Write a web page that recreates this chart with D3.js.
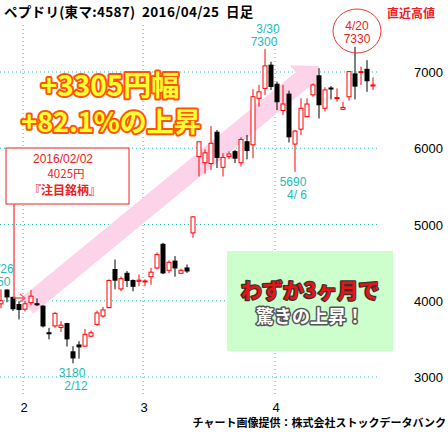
<!DOCTYPE html>
<html><head><meta charset="utf-8">
<script src="https://cdn.jsdelivr.net/npm/d3@7"></script>
<style>body{margin:0;background:#fff}svg{display:block}</style>
</head><body><svg id="c" width="448" height="432"></svg>
<script>
// daily candles, Jan 2016 -> Apr 25 2016
const opens  = [3960,4140,4045,3950,3890,3975,3960,3930,3580,3670,3650,3700,3330,3420,3405,3535,3690,3800,3910,4410,4155,4360,4265,4255,4255,4315,4430,4740,4400,4520,4360,4430,4890,
  5890,5810,5800,6210,5750,5890,5955,5810,6085,6045,6655,6785,7090,6840,6495,6710,6055,6250,6415,6700,6950,6525,6790,6660,6510,6675,6975,7000,7035,6830];
const closes = [4000,4050,3895,3885,3960,4060,3950,3670,3575,3835,3680,3500,3250,3395,3560,3580,3840,3880,4265,4270,4290,4265,4190,4270,4260,4375,4605,4365,4505,4430,4400,4390,5100,
  6085,5940,6065,5880,5880,5925,5870,6115,5970,6675,6740,7080,6810,6610,6580,6150,6225,6525,6580,6830,6570,6765,6785,6665,6535,7005,6815,7005,6885,6830];
const highs  = [4150,4150,4050,3995,3995,4140,4030,3940,3645,3850,3735,3710,3405,3470,3630,3610,3870,3920,4280,4540,4320,4390,4280,4345,4280,4430,4635,4760,4530,4585,4420,4475,5110,
  6085,5985,6290,6240,5935,5960,5980,6145,6175,6775,6830,7300,7135,6875,6830,6755,6240,6655,6655,6850,7050,6800,6815,6785,6610,7005,7330,7070,7155,6930];
const lows   = [3900,3980,3865,3755,3860,3940,3930,3650,3495,3645,3590,3400,3180,3240,3395,3520,3670,3780,3900,4150,4125,4180,4125,4190,4190,4210,4410,4350,4360,4315,4360,4365,4825,
  5630,5665,5715,5740,5630,5860,5805,5760,5855,5870,6545,6700,6765,6500,6435,6075,5690,6175,6405,6675,6390,6480,6640,6610,6500,6625,6640,6830,6740,6765];
const monthLabels = ["2","3","4"];
const monthStart = [4,24,46];
const priceTicks = [3000,4000,5000,6000,7000];

const svg = d3.select("#c");
const x = d3.scaleLinear().domain([0,62]).range([1,373]);
const y = d3.scaleLinear().domain([3000,7000]).range([377,72]);
const teal = "#22bbbb";
const jp = "'Noto Sans CJK JP', sans-serif";
const lib = "'Liberation Sans', sans-serif";

// grid
svg.selectAll(".hg").data(priceTicks).join("line")
  .attr("x1",0).attr("x2",378).attr("y1",d=>y(d)).attr("y2",d=>y(d))
  .attr("stroke",teal).attr("stroke-dasharray","1,3");
svg.selectAll(".vg").data(monthStart).join("line")
  .attr("x1",d=>x(d)-2).attr("x2",d=>x(d)-2).attr("y1",25).attr("y2",395)
  .attr("stroke",teal).attr("stroke-dasharray","1,3");
svg.selectAll(".yl").data(priceTicks).join("text")
  .attr("x",443).attr("y",d=>y(d)+5).attr("text-anchor","end")
  .attr("font-family",lib).attr("font-size",13).text(d=>d);
svg.selectAll(".ml").data(monthStart).join("text")
  .attr("x",d=>x(d)-1).attr("y",412).attr("text-anchor","middle")
  .attr("font-family",lib).attr("font-size",13).text((d,i)=>monthLabels[i]);

// pink arrow band
const p0=[x(4)+2,y(3930)], p1=[x(53),y(7080)];
const dx=p1[0]-p0[0], dy=p1[1]-p0[1], L=Math.hypot(dx,dy);
const ux=dx/L, uy=dy/L, nx=-uy, ny=ux;
const hw=10, ah=19, al=22;
const b=[p1[0]-ux*al,p1[1]-uy*al];
const pt=(p,k)=>[p[0]+nx*k,p[1]+ny*k];
svg.append("path").attr("fill","#fcd3e8")
  .attr("d","M"+[pt(p0,hw),pt(b,hw),pt(b,ah),p1,pt(b,-ah),pt(b,-hw),pt(p0,-hw)].map(p=>p.join(",")).join("L")+"Z");

// candles
const idx = d3.range(opens.length);
svg.selectAll(".wick").data(idx).join("line")
  .attr("x1",i=>x(i)).attr("x2",i=>x(i)).attr("y1",i=>y(highs[i])).attr("y2",i=>y(lows[i]))
  .attr("stroke",i=>closes[i]>=opens[i]?"#ff0000":"#000").attr("stroke-width",1);
svg.selectAll(".body").data(idx).join("rect")
  .attr("x",i=>x(i)-2).attr("width",4)
  .attr("y",i=>y(Math.max(opens[i],closes[i])))
  .attr("height",i=>Math.max(1,Math.abs(y(opens[i])-y(closes[i]))))
  .attr("fill",i=>closes[i]>=opens[i]?"#fff":"#000")
  .attr("stroke",i=>closes[i]>=opens[i]?"#ff0000":"#000").attr("stroke-width",1);

// annotations
function txt(s,px,py,opt){
  const t=svg.append("text").attr("x",px).attr("y",py).text(s)
    .attr("font-family",opt.f||jp).attr("font-size",opt.s||12)
    .attr("fill",opt.c||"#000").attr("text-anchor",opt.a||"start").attr("xml:space","preserve");
  if(opt.w) t.attr("font-weight",opt.w);
  if(opt.st) t.attr("stroke",opt.st).attr("stroke-width",opt.sw||1).attr("paint-order","stroke").attr("stroke-linejoin","round");
  return t;
}
txt("ペプドリ(東マ:4587)  2016/04/25  日足",4,17,{s:13.5,w:"bold"}).attr("letter-spacing",0.3);
txt("直近高値",435,18,{s:12,w:"bold",c:"#ee2222",a:"end"});
txt("3/30",268,33,{s:12,c:teal,a:"middle",f:lib});
txt("7300",264,46,{s:12,c:teal,a:"middle",f:lib});
svg.append("ellipse").attr("cx",357).attr("cy",31).attr("rx",24).attr("ry",22).attr("fill","none").attr("stroke","#ee3333");
txt("4/20",357,30,{s:12,c:"#ee2222",a:"middle",f:lib});
txt("7330",357,43,{s:12,c:"#ee2222",a:"middle",f:lib});
txt("5690",293,186,{s:12,c:teal,a:"middle",f:lib});
txt("4/ 6",297,199,{s:12,c:teal,a:"middle",f:lib});
txt("3180",72,377,{s:12,c:teal,a:"middle",f:lib});
txt("2/12",76,390,{s:12,c:teal,a:"middle",f:lib});
txt("/26",-3,273,{s:12,c:teal,f:lib});
txt("50",-3,286,{s:12,c:teal,f:lib});

txt("+3305円幅",110,96,{s:28,w:"bold",c:"#ffff33",a:"middle",st:"#ff5500",sw:4});
txt("+82.1%の上昇",111,132,{s:27,w:"bold",c:"#ffff33",a:"middle",st:"#ff5500",sw:4});

svg.append("rect").attr("x",6).attr("y",148).attr("width",123).attr("height",56).attr("fill","#fff").attr("stroke","#ee2222");
txt("2016/02/02",63,163,{s:12,c:"#ee2222",a:"middle",f:lib});
txt("4025円",66,178,{s:11.5,c:"#ee2222",a:"middle"});
txt("『注目銘柄』",65,195,{s:12,c:"#ee2222",a:"middle",w:"bold"});
svg.append("path").attr("d",`M14,204 V298 H25`).attr("fill","none").attr("stroke","#ff5555").attr("stroke-width",1.5);
svg.append("path").attr("d",`M20,294 L25,298 L20,302`).attr("fill","none").attr("stroke","#ff5555").attr("stroke-width",1.2);

svg.append("rect").attr("x",227).attr("y",251).attr("width",166).attr("height",100).attr("fill","#ccffcc");
txt("わずか3ヶ月で",310,298,{s:21,w:"bold",c:"#ee1111",a:"middle",st:"#333",sw:2.5});
txt("驚きの上昇！",310,323,{s:18,w:"bold",c:"#fff",a:"middle",st:"#555",sw:3});

txt("チャート画像提供：株式会社ストックデータバンク",446,427,{s:11,w:"bold",a:"end"});
</script></body></html>
